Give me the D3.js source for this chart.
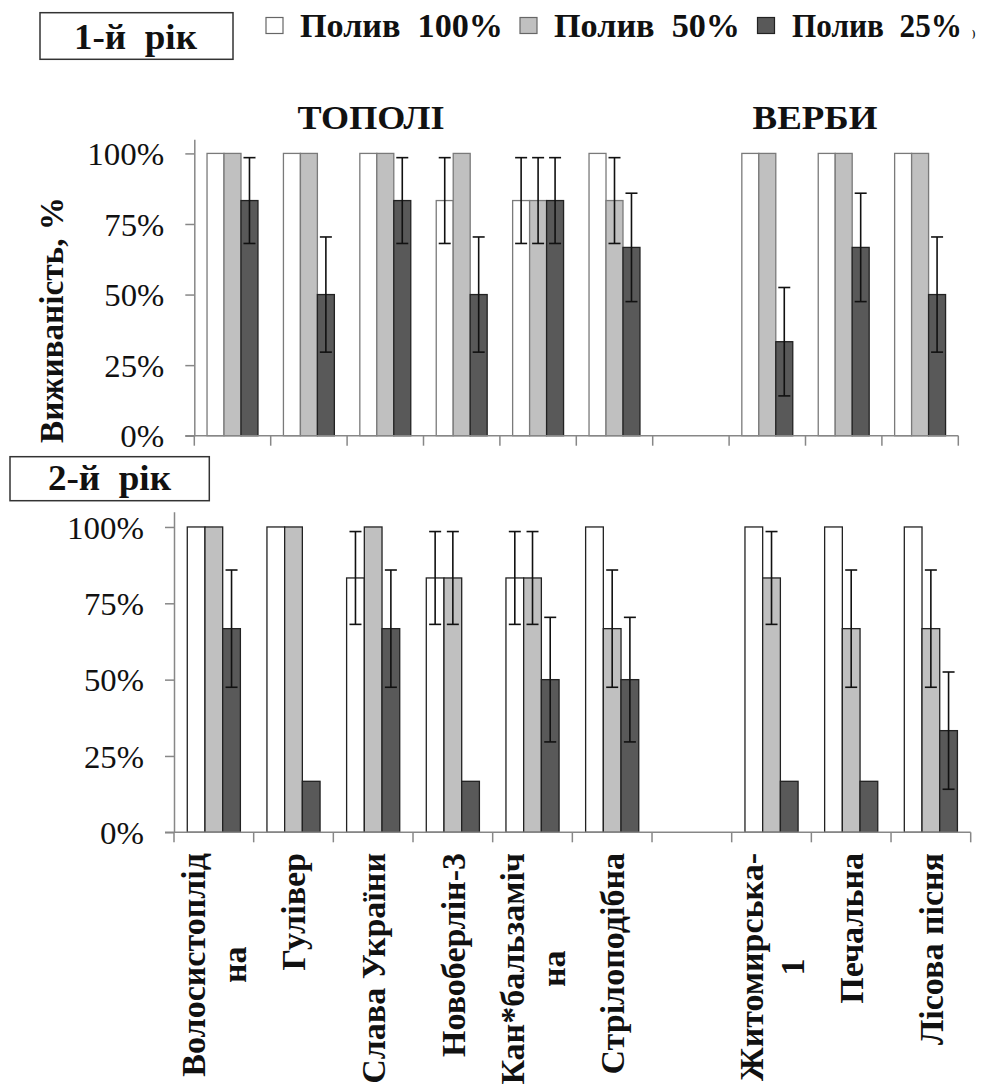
<!DOCTYPE html>
<html>
<head>
<meta charset="utf-8">
<script src="https://cdn.jsdelivr.net/npm/d3@7"></script>
<style>
  html, body { margin: 0; padding: 0; background: #fff; }
  svg { display: block; }
  svg text { font-family: "Liberation Serif", Tinos, "Times New Roman", "DejaVu Serif", "Noto Serif", serif; }
</style>
</head>
<body>
<svg id="chart" width="983" height="1088"></svg>
<script>
// Survival of poplar and willow cultivars under three watering regimes
const categories = ["Волосистоплідна", "Гулівер", "Слава України", "Новоберлін-3",
  "Кан*бальзамічна", "Стрілоподібна", "", "Житомирська-1", "Печальна", "Лісова пісня"];
const categoryLines = [["Волосистоплід", "на"], ["Гулівер"], ["Слава України"], ["Новоберлін-3"],
  ["Кан*бальзаміч", "на"], ["Стрілоподібна"], [], ["Житомирська-", "1"], ["Печальна"], ["Лісова пісня"]];
const seriesNames = ["Полив  100%", "Полив  50%", "Полив  25%"];
const seriesColors = ["#ffffff", "#c0c0c0", "#595959"];
const yTicks = [0, 0.25, 0.5, 0.75, 1];

// first year
const year1Full = [1, 1, 1, 0.833, 0.833, 1, null, 1, 1, 1];
const year1Half = [1, 1, 1, 1, 0.833, 0.833, null, 1, 1, 1];
const year1Quarter = [0.833, 0.5, 0.833, 0.5, 0.833, 0.667, null, 0.333, 0.667, 0.5];
const year1FullErr = [0, 0, 0, 0.152, 0.152, 0, 0, 0, 0, 0];
const year1HalfErr = [0, 0, 0, 0, 0.152, 0.152, 0, 0, 0, 0];
const year1QuarterErr = [0.152, 0.204, 0.152, 0.204, 0.152, 0.192, 0, 0.192, 0.192, 0.204];

// second year
const year2Full = [1, 1, 0.833, 0.833, 0.833, 1, null, 1, 1, 1];
const year2Half = [1, 1, 1, 0.833, 0.833, 0.667, null, 0.833, 0.667, 0.667];
const year2Quarter = [0.667, 0.167, 0.667, 0.167, 0.5, 0.5, null, 0.167, 0.167, 0.333];
const year2FullErr = [0, 0, 0.152, 0.152, 0.152, 0, 0, 0, 0, 0];
const year2HalfErr = [0, 0, 0, 0.152, 0.152, 0.192, 0, 0.152, 0.192, 0.192];
const year2QuarterErr = [0.192, 0, 0.192, 0, 0.204, 0.204, 0, 0, 0, 0.192];

const svg = d3.select("#chart");
const AXIS = "#878787";

function panel(cfg) {
  const g = svg.append("g");
  const x = d3.scaleBand().domain(d3.range(categories.length)).range([cfg.x0, cfg.x1]).padding(0);
  const xs = d3.scaleBand().domain([0, 1, 2]).range([0, x.bandwidth()]).paddingInner(0).paddingOuter(0.75);
  const y = d3.scaleLinear().domain([0, 1.05]).range([cfg.yBottom, cfg.yTop]);

  // y axis
  const ya = g.append("g").attr("transform", `translate(${cfg.x0},0)`)
    .call(d3.axisLeft(y).tickValues(yTicks).tickFormat(d3.format(".0%"))
      .tickSize(9).tickSizeOuter(0).tickPadding(21));
  ya.attr("font-family", null);
  ya.select(".domain").attr("stroke", AXIS).attr("stroke-width", 1.5);
  ya.selectAll(".tick line").attr("stroke", AXIS).attr("stroke-width", 1.5);
  ya.selectAll(".tick text").attr("font-size", 31).attr("fill", "#111")
    .attr("dy", "0.36em")
    .attr("textLength", 77).attr("lengthAdjust", "spacingAndGlyphs")
    .each(function (d) { if (d < 1) d3.select(this).attr("textLength", d === 0 ? 44 : 60); });

  // bars
  const series = cfg.values.map((vals, s) => vals.map((v, i) => ({ s, i, v, e: cfg.errors[s][i] })));
  series.forEach((rows, s) => {
    g.append("g").selectAll("rect").data(rows.filter(r => r.v != null)).join("rect")
      .attr("x", r => x(r.i) + xs(s))
      .attr("width", xs.bandwidth())
      .attr("y", r => y(r.v))
      .attr("height", r => y(0) - y(r.v))
      .attr("fill", seriesColors[s])
      .attr("stroke", cfg.strokes[s])
      .attr("stroke-width", 1.3);
  });

  // error bars
  const errRows = series.flat().filter(r => r.v != null && r.e > 0);
  const eg = g.append("g").attr("stroke", "#111").attr("stroke-width", 1.6);
  errRows.forEach(r => {
    const cx = x(r.i) + xs(r.s) + xs.bandwidth() / 2;
    const yTop = y(r.v + r.e), yBot = y(r.v - r.e);
    eg.append("line").attr("x1", cx).attr("x2", cx).attr("y1", yTop).attr("y2", yBot);
    eg.append("line").attr("x1", cx - 6).attr("x2", cx + 6).attr("y1", yTop).attr("y2", yTop);
    eg.append("line").attr("x1", cx - 6).attr("x2", cx + 6).attr("y1", yBot).attr("y2", yBot);
  });

  // x axis with category boundary ticks
  const xa = g.append("g").attr("stroke", AXIS).attr("stroke-width", 1.5);
  xa.append("line").attr("x1", cfg.x0 - 9).attr("x2", cfg.x1).attr("y1", y(0)).attr("y2", y(0));
  const bounds = categories.map((c, i) => x(i)).concat([cfg.x1]);
  xa.selectAll("line.tk").data(bounds).join("line").attr("class", "tk")
    .attr("x1", d => d).attr("x2", d => d).attr("y1", y(0)).attr("y2", y(0) + 10);

  return { x, y };
}

// upper panel: first year
const panelYear1 = panel({
  x0: 194.3, x1: 958.3, yBottom: 435.7, yTop: 139.3,
  values: [year1Full, year1Half, year1Quarter],
  errors: [year1FullErr, year1HalfErr, year1QuarterErr],
  strokes: ["#7a7a7a", "#7a7a7a", "#222"]
});

// lower panel: second year
const panelYear2 = panel({
  x0: 174, x1: 970.7, yBottom: 832.3, yTop: 511.7,
  values: [year2Full, year2Half, year2Quarter],
  errors: [year2FullErr, year2HalfErr, year2QuarterErr],
  strokes: ["#222", "#222", "#222"]
});

// category labels under the lower panel, rotated, lines centred in a top-anchored block
const labelTop = 853;
const labelFont = 34;
categoryLines.forEach((lines, i) => {
  if (!lines.length) return;
  const cx = panelYear2.x(i) + panelYear2.x.bandwidth() / 2;
  const tmp = svg.append("g");
  const widths = lines.map(t => {
    const n = tmp.append("text").attr("font-size", labelFont).attr("font-weight", "bold").text(t);
    return n.node().getComputedTextLength();
  });
  tmp.remove();
  const L = d3.max(widths);
  const cy = labelTop + L / 2;
  lines.forEach((t, k) => {
    const lx = cx + (k - (lines.length - 1) / 2) * 41;
    svg.append("text")
      .attr("transform", `translate(${lx},${cy}) rotate(-90)`)
      .attr("text-anchor", "middle").attr("dy", "0.35em")
      .attr("font-size", labelFont).attr("font-weight", "bold").attr("fill", "#111")
      .text(t);
  });
});

// y axis title
svg.append("text")
  .attr("transform", "translate(51,320) rotate(-90)")
  .attr("text-anchor", "middle").attr("dy", "0.35em")
  .attr("font-size", 33).attr("font-weight", "bold").attr("fill", "#111")
  .attr("textLength", 246).attr("lengthAdjust", "spacingAndGlyphs")
  .text("Виживаність, %");

// group titles
svg.append("text").attr("x", 371).attr("y", 129).attr("text-anchor", "middle")
  .attr("font-size", 34).attr("font-weight", "bold").attr("fill", "#111")
  .attr("textLength", 147).attr("lengthAdjust", "spacingAndGlyphs").text("ТОПОЛІ");
svg.append("text").attr("x", 815).attr("y", 129).attr("text-anchor", "middle")
  .attr("font-size", 34).attr("font-weight", "bold").attr("fill", "#111")
  .attr("textLength", 125).attr("lengthAdjust", "spacingAndGlyphs").text("ВЕРБИ");

// year boxes
function yearBox(x, y, w, h, label, tx, tw, ty) {
  svg.append("rect").attr("x", x).attr("y", y).attr("width", w).attr("height", h)
    .attr("fill", "#fff").attr("stroke", "#333").attr("stroke-width", 1.5);
  svg.append("text").attr("x", tx).attr("y", ty)
    .attr("font-size", 35).attr("font-weight", "bold").attr("fill", "#111")
    .attr("textLength", tw).attr("lengthAdjust", "spacingAndGlyphs")
    .style("white-space", "pre").text(label);
}
yearBox(40, 12.7, 193, 46.6, "1-й  рік", 74, 123, 49.3);
yearBox(10, 456.7, 199.3, 44, "2-й  рік", 48, 123, 490);

// legend
const legendItems = [
  { sx: 266, tx: 300, tw: 203 },
  { sx: 520, tx: 554, tw: 186 },
  { sx: 757.5, tx: 792, tw: 170 }
];
legendItems.forEach((it, s) => {
  svg.append("rect").attr("x", it.sx).attr("y", 17.5).attr("width", 17).attr("height", 16)
    .attr("fill", seriesColors[s]).attr("stroke", s === 2 ? "#222" : "#666").attr("stroke-width", 1.2);
  svg.append("text").attr("x", it.tx).attr("y", 37.3)
    .attr("font-size", 33).attr("font-weight", "bold").attr("fill", "#111")
    .attr("textLength", it.tw).attr("lengthAdjust", "spacingAndGlyphs")
    .style("white-space", "pre").text(seriesNames[s]);
});
svg.append("text").attr("x", 972).attr("y", 37).attr("font-size", 10).attr("font-weight", "bold")
  .attr("fill", "#111").text(")");
</script>
</body>
</html>
